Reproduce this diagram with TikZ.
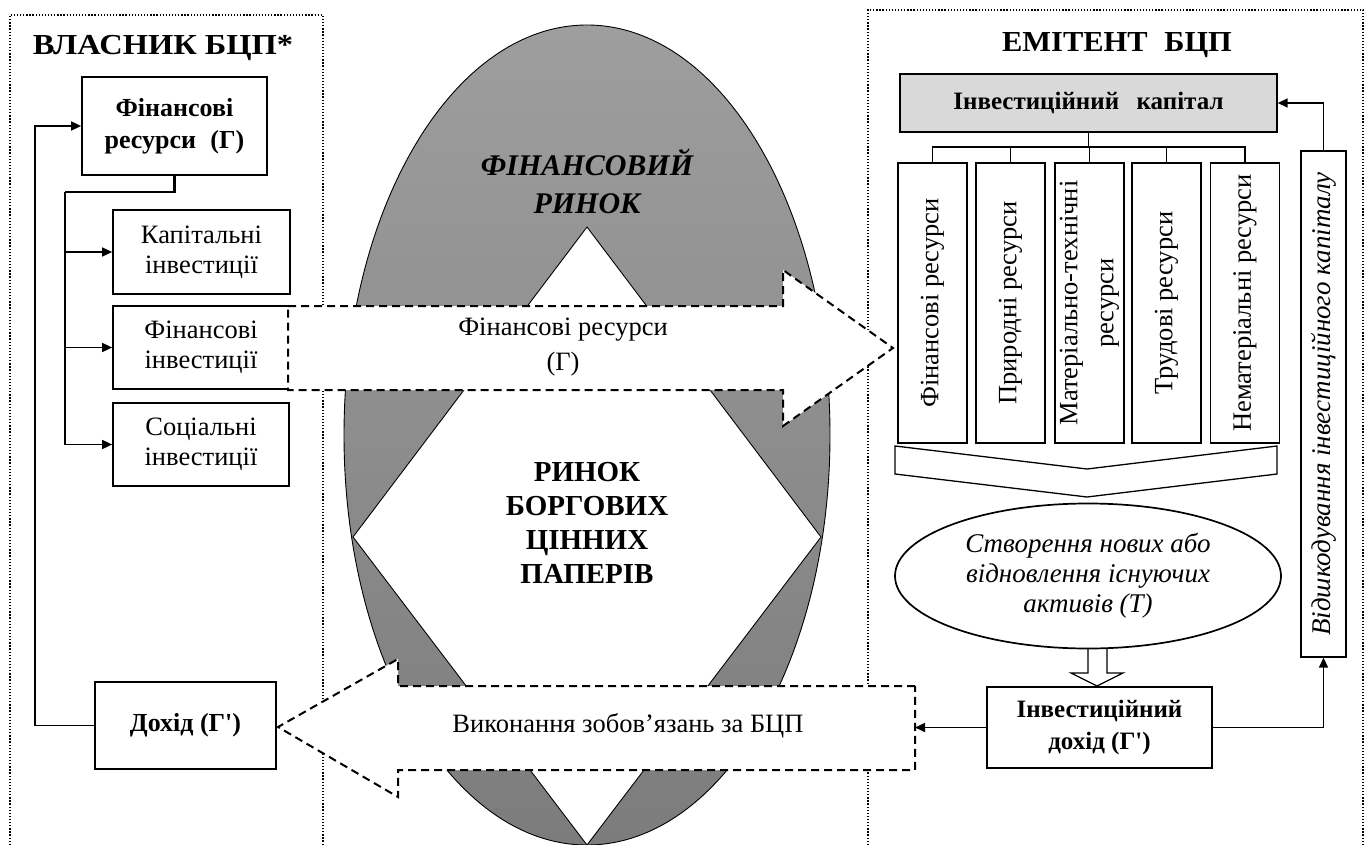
\documentclass[tikz,border=0pt]{standalone}
\usepackage{fontspec}
\setmainfont{Liberation Serif}[BoldFont={Liberation Serif Bold}, ItalicFont={Liberation Serif Italic}, BoldItalicFont={Liberation Serif Bold Italic}]
\usetikzlibrary{arrows.meta,shapes.geometric}
\definecolor{ellTop}{RGB}{158,158,158}
\definecolor{ellBot}{RGB}{124,124,124}
\definecolor{capgray}{RGB}{217,217,217}
\begin{document}
\begin{tikzpicture}[x=1pt,y=-1pt,
  frame/.style={line width=1.3pt, dash pattern=on 1.3pt off 1.8pt},
  bx/.style={draw, line width=1.7pt, fill=white, align=center, inner sep=0pt},
  thinbx/.style={draw, line width=1.3pt, fill=white, align=center, inner sep=0pt},
  arr/.style={line width=1.6pt, -{Triangle[length=10pt,width=9pt]}},
  conn/.style={line width=1.4pt},
  thickconn/.style={line width=2.8pt},
  bigarrow/.style={draw, fill=white, line width=2pt, dash pattern=on 8pt off 5pt},
  reg/.style={font=\fontsize{26.5}{30}\selectfont},
  boldtxt/.style={font=\bfseries\fontsize{26}{32}\selectfont},
  itl/.style={font=\itshape\fontsize{27}{30}\selectfont},
  title/.style={font=\bfseries\fontsize{29}{34}\selectfont}
]
\useasboundingbox (0,0) rectangle (1370,845);

% dotted frames
\draw[frame] (10,845) -- (10,15) -- (323,15) -- (323,845);
\draw[frame] (868,845) -- (868,10) -- (1363,10) -- (1363,845);

% financial market ellipse
\shade[top color=ellTop, bottom color=ellBot] (587,435) ellipse [x radius=243, y radius=410];
\draw[line width=0.9pt] (587,435) ellipse [x radius=243, y radius=410];
\draw[fill=white, line width=0.9pt] (587,227) -- (821,537) -- (587,845) -- (353,537) -- cycle;
\node[font=\bfseries\itshape\fontsize{30}{38}\selectfont, align=center] (fm) at (587,181) {ФІНАНСОВИЙ\\РИНОК};
\node[font=\bfseries\fontsize{29}{34}\selectfont, align=center] (rbcp) at (587,523) {РИНОК\\БОРГОВИХ\\ЦІННИХ\\ПАПЕРІВ};

% left side: owner
\node[title, xscale=1.12] (own) at (163,48) {ВЛАСНИК БЦП*};
\node[bx, boldtxt, minimum width=185pt, minimum height=98pt] (fr) at (174.5,126) {Фінансові\\ресурси\hspace{0.3em} (Г)};
\node[bx, reg, minimum width=177pt, minimum height=84pt] (kap) at (201.5,252) {Капітальні\\інвестиції};
\node[bx, reg, minimum width=176pt, minimum height=83pt] (fin) at (201,347.5) {Фінансові\\інвестиції};
\node[bx, reg, minimum width=176pt, minimum height=83pt] (soc) at (201,444.5) {Соціальні\\інвестиції};
\node[bx, boldtxt, minimum width=181pt, minimum height=87pt] (doh) at (185.5,725.5) {Дохід (Г\textquotesingle)};

\coordinate (jt) at (65,192);
\coordinate (jb) at (65,444.5);
\coordinate (rl) at (35,725.5);
\draw[thickconn] (fr.south) |- (jt);
\draw[line width=2.2pt] (jt) -- (jb);
\draw[arr] (kap.west -| jt) -- (kap.west);
\draw[arr] (fin.west -| jt) -- (fin.west);
\draw[arr] (soc.west -| jt) -- (soc.west);
\draw[arr] (doh.west) -- (rl) |- (fr.west);

% right side: issuer
\node[title, xscale=1.05] (emit) at (1117,45) {ЕМІТЕНТ\hspace{0.55em}БЦП};
\node[thinbx, fill=capgray, font=\bfseries\fontsize{25}{30}\selectfont, minimum width=377pt, minimum height=58pt] (ik) at (1088.5,103) {Інвестиційний\hspace{0.7em}капітал};

\node[thinbx, reg, rotate=90, minimum width=280pt, minimum height=69pt] (r1) at (932.5,303) {Фінансові ресурси};
\node[thinbx, reg, rotate=90, minimum width=280pt, minimum height=69pt] (r2) at (1010.5,303) {Природні ресурси};
\node[thinbx, font=\fontsize{26.5}{36}\selectfont, rotate=90, minimum width=280pt, minimum height=69pt] (r3) at (1089.5,303) {Матеріально-технічні\\ресурси};
\node[thinbx, reg, rotate=90, minimum width=280pt, minimum height=69pt] (r4) at (1166.5,303) {Трудові ресурси};
\node[thinbx, reg, rotate=90, minimum width=280pt, minimum height=69pt] (r5) at (1245,303) {Нематеріальні ресурси};

\coordinate (bar) at (1089,147);
\draw[conn] (ik.south) -- (ik.south |- bar);
\draw[conn] (r1.east) -- (r1.east |- bar) -- (r5.east |- bar) -- (r5.east);
\foreach \r in {r2,r3,r4} \draw[conn] (\r.east) -- (\r.east |- bar);

% chevron
\draw[line width=1.3pt, fill=white] (895,446) -- (1087,469) -- (1277,446) -- (1277,474) -- (1087,497) -- (895,474) -- cycle;

% hollow arrow
\draw[line width=1.3pt, fill=white] (1088,640) -- (1088,673) -- (1071,673) -- (1097,686) -- (1123,673) -- (1107,673) -- (1107,640);

\node[draw, ellipse, line width=1.7pt, fill=white, minimum width=386pt, minimum height=145pt, inner sep=0pt, align=center, itl] (act) at (1088,576) {Створення нових або\\відновлення існуючих\\активів (Т)};

\node[bx, font=\bfseries\fontsize{25}{32}\selectfont, minimum width=225pt, minimum height=81pt] (dohod) at (1099.5,727.5) {Інвестиційний\\дохід (Г\textquotesingle)};

\node[thinbx, itl, rotate=90, minimum width=506pt, minimum height=45pt] (vk) at (1323.5,404) {Відшкодування інвестиційного капіталу};

% big dashed arrows
\draw[bigarrow] (288,306) -- (783,306) -- (783,270) -- (893,348) -- (783,426) -- (783,390) -- (288,390) -- cycle;
\node[font=\fontsize{26.5}{35}\selectfont, align=center] (frt) at (563,347) {Фінансові ресурси\\(Г)};
\draw[bigarrow] (915,686) -- (398,686) -- (398,659) -- (278,727) -- (398,797) -- (398,770) -- (915,770) -- cycle;
\node[reg] (vz) at (628,726) {Виконання зобов’язань за БЦП};
\coordinate (obl) at (915,727.5);

% connectors on issuer side
\draw[arr] (dohod.west) -- (obl);
\draw[arr] (dohod.east) -| (vk.west);
\draw[arr] (vk.east) |- (ik.east);
\end{tikzpicture}
\end{document}
